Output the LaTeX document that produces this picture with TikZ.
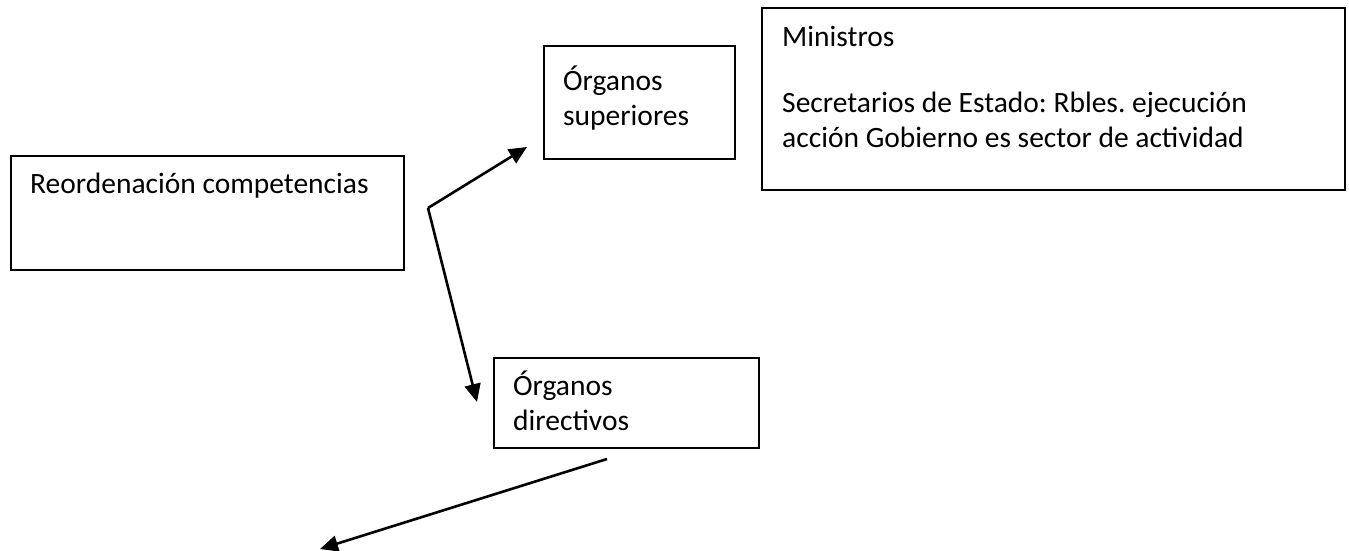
\documentclass[tikz,border=0pt]{standalone}
\usepackage{fontspec}
\setmainfont{Carlito}
\usepackage{tikz}
\usetikzlibrary{arrows.meta}
\usetikzlibrary{positioning}
\frenchspacing
\tikzset{
    box/.style={
      rectangle,
      draw=black,
      line width=1.8pt,
      anchor=north west,
      inner sep=0pt
    },
    boxtext/.style={
      anchor=base west,
      align=left,
      inner sep=0pt,
      font=\fontsize{29.5}{35}\selectfont
    },
    link/.style={
      line width=2.6pt,
      -{Triangle[length=18pt,width=16pt]}
    },
}

\begin{document}
\begin{tikzpicture}[x=1pt,y=-1pt]
    \useasboundingbox (0,0) rectangle (1349,551);

    \draw (10,155) node[box,minimum width=393pt,minimum height=114pt] (Reord) {};
    \draw (543,45) node[box,minimum width=191pt,minimum height=113pt] (Sup) {};
    \draw (761,7) node[box,minimum width=583pt,minimum height=182pt] (Min) {};
    \draw (493,357) node[box,minimum width=265pt,minimum height=90pt] (Dir) {};

    % base anchor sits on the last line
    \node[boxtext] (ReordT) at ([xshift=20pt,yshift=-38pt]Reord.north west) {Reordenación competencias};
    \node[boxtext] (SupT) at ([xshift=20pt,yshift=-80pt]Sup.north west) {Órganos\\superiores};
    \node[boxtext] (MinT) at ([xshift=21pt,yshift=-140pt]Min.north west) {Ministros\\[31pt]Secretarios de Estado: Rbles. ejecución\\acción Gobierno es sector de actividad};
    \node[boxtext] (DirT) at ([xshift=20pt,yshift=-73pt]Dir.north west) {Órganos\\directivos};

    \coordinate (Fork) at (428,208);
    \coordinate (SupIn) at (527,147);
    \coordinate (DirIn) at (477,402);
    \coordinate (DirOut) at (607,459);
    \coordinate (Next) at (320,549);

    \path (Fork) edge[link] (SupIn);
    \path (Fork) edge[link] (DirIn);
    \path (DirOut) edge[link] (Next);
\end{tikzpicture}
\end{document}
